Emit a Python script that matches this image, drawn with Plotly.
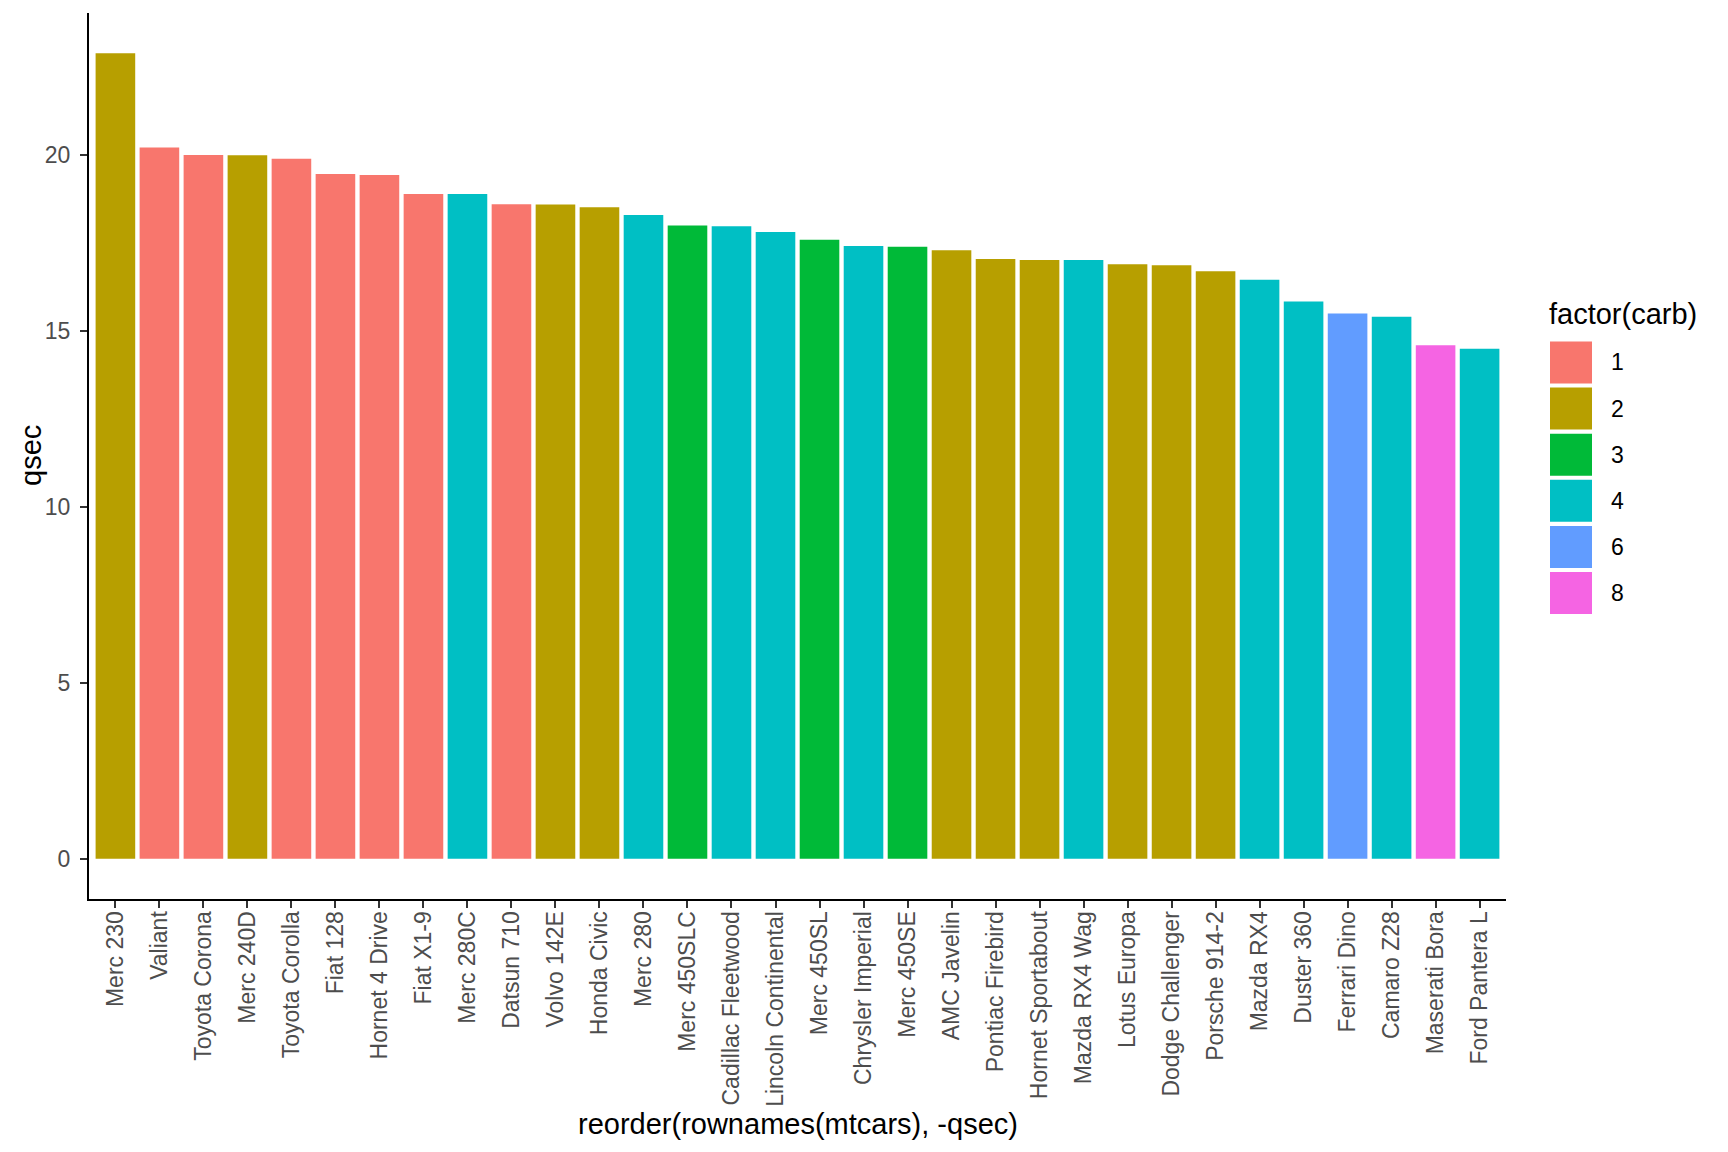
import plotly.graph_objects as go

# ---- data (mtcars, ordered by -qsec) ----
cars = ["Merc 230", "Valiant", "Toyota Corona", "Merc 240D", "Toyota Corolla",
        "Fiat 128", "Hornet 4 Drive", "Fiat X1-9", "Merc 280C", "Datsun 710",
        "Volvo 142E", "Honda Civic", "Merc 280", "Merc 450SLC", "Cadillac Fleetwood",
        "Lincoln Continental", "Merc 450SL", "Chrysler Imperial", "Merc 450SE",
        "AMC Javelin", "Pontiac Firebird", "Hornet Sportabout", "Mazda RX4 Wag",
        "Lotus Europa", "Dodge Challenger", "Porsche 914-2", "Mazda RX4",
        "Duster 360", "Ferrari Dino", "Camaro Z28", "Maserati Bora", "Ford Pantera L"]
qsec = [22.90, 20.22, 20.01, 20.00, 19.90, 19.47, 19.44, 18.90, 18.90, 18.61,
        18.60, 18.52, 18.30, 18.00, 17.98, 17.82, 17.60, 17.42, 17.40, 17.30,
        17.05, 17.02, 17.02, 16.90, 16.87, 16.70, 16.46, 15.84, 15.50, 15.41,
        14.60, 14.50]
carb = [2, 1, 1, 2, 1, 1, 1, 1, 4, 1, 2, 2, 4, 3, 4, 4, 3, 4, 3, 2, 2, 2, 4,
        2, 2, 2, 4, 4, 6, 4, 8, 4]
carb_levels = [1, 2, 3, 4, 6, 8]
carb_colors = ["#F8766D", "#B79F00", "#00BA38", "#00BFC4", "#619CFF", "#F564E3"]
y_ticks = [0, 5, 10, 15, 20]

color_map = dict(zip(carb_levels, carb_colors))
FONT = "Liberation Sans, Arial, sans-serif"

W, H = 1728, 1152
L, R, T, B = 89, 1506, 13, 899  # plot area in pixels
pw, ph = R - L, B - T


def px_x(px):
    return (px - L) / pw


def px_y(py):
    return (B - py) / ph


fig = go.Figure()
fig.add_trace(go.Bar(
    x=cars, y=qsec,
    marker=dict(color=[color_map[c] for c in carb], line=dict(width=0)),
    showlegend=False,
    hovertemplate="%{x}<br>qsec=%{y}<extra></extra>",
))

ymax = max(qsec)
pad = 0.05 * ymax
n = len(cars)

fig.update_layout(
    width=W, height=H,
    margin=dict(l=L, r=W - R, t=T, b=H - B, pad=0),
    paper_bgcolor="white", plot_bgcolor="white",
    bargap=0.1,
    font=dict(family=FONT, size=23, color="#4D4D4D"),
    xaxis=dict(
        type="category", categoryorder="array", categoryarray=cars,
        range=[-0.6, n - 0.4],
        showgrid=False, zeroline=False,
        showline=True, linecolor="black", linewidth=2,
        ticks="outside", ticklen=7, tickwidth=2, tickcolor="#333333",
        tickangle=-90, tickfont=dict(family=FONT, size=23, color="#4D4D4D"),
        ticklabelstandoff=-6,
    ),
    yaxis=dict(
        range=[-pad, ymax + pad],
        tickvals=y_ticks, ticktext=[str(v) for v in y_ticks],
        showgrid=False, zeroline=False,
        showline=True, linecolor="black", linewidth=2,
        ticks="outside", ticklen=7, tickwidth=2, tickcolor="#333333",
        tickfont=dict(family=FONT, size=23, color="#4D4D4D"),
        ticklabelstandoff=5,
    ),
)

annotations = [
    dict(text="reorder(rownames(mtcars), -qsec)", xref="paper", yref="paper",
         x=0.5, y=px_y(1124), xanchor="center", yanchor="middle", showarrow=False,
         font=dict(family=FONT, size=29, color="black")),
    dict(text="qsec", xref="paper", yref="paper", x=px_x(31), y=0.5,
         xanchor="center", yanchor="middle", textangle=-90, showarrow=False,
         font=dict(family=FONT, size=29, color="black")),
    dict(text="factor(carb)", xref="paper", yref="paper", x=px_x(1547), y=px_y(314),
         xanchor="left", yanchor="middle", showarrow=False,
         font=dict(family=FONT, size=29, color="black")),
]

shapes = []
key_x0, key_x1 = 1550, 1592
key_c0, key_step, key_h = 362.5, 46.1, 42
for i, (lvl, col) in enumerate(zip(carb_levels, carb_colors)):
    cy = key_c0 + i * key_step
    shapes.append(dict(type="rect", xref="paper", yref="paper",
                       x0=px_x(key_x0), x1=px_x(key_x1),
                       y0=px_y(cy + key_h / 2), y1=px_y(cy - key_h / 2),
                       fillcolor=col, line=dict(width=0)))
    annotations.append(dict(text=str(lvl), xref="paper", yref="paper",
                            x=px_x(1609), y=px_y(cy), xanchor="left", yanchor="middle",
                            showarrow=False,
                            font=dict(family=FONT, size=23, color="black")))

fig.update_layout(annotations=annotations, shapes=shapes)
fig.write_html("out.html", config={"displayModeBar": False},
               post_script="document.body.style.margin='0';document.body.style.overflow='hidden';")
